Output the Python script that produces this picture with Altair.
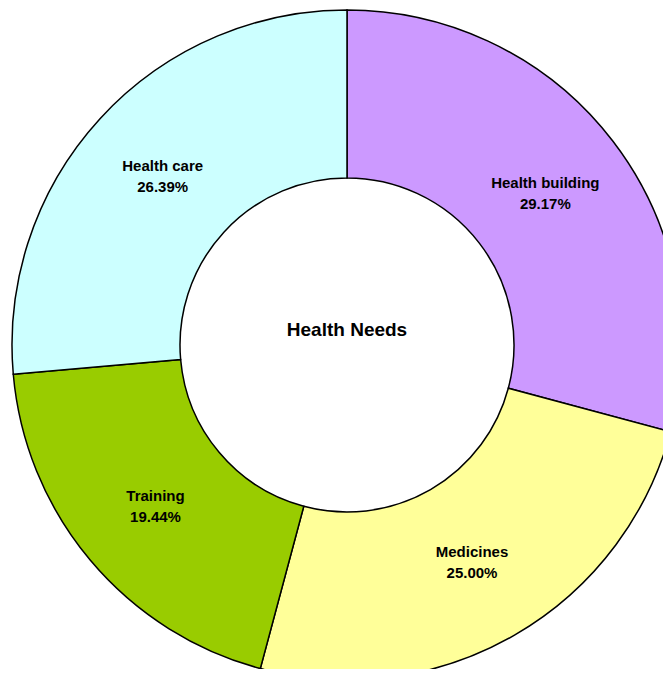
import altair as alt
import pandas as pd

categories = ["Health building", "Medicines", "Training", "Health care"]
counts = [21, 18, 14, 19]
colors = ["#CC99FF", "#FFFF99", "#99CC00", "#CCFFFF"]
center_title = "Health Needs"

total = sum(counts)
df = pd.DataFrame({
    "category": categories,
    "value": counts,
    "order": list(range(len(categories))),
})
df["label"] = [f"{c}\n{v / total * 100:.2f}%" for c, v in zip(categories, counts)]

CX, CY = 339, 337

base = alt.Chart(df).encode(
    theta=alt.Theta("value:Q", stack=True),
    order=alt.Order("order:Q"),
)

arcs = base.mark_arc(
    outerRadius=335, innerRadius=167, stroke="black", strokeWidth=1.5
).encode(
    x=alt.value(CX), y=alt.value(CY),
    color=alt.Color("category:N", scale=alt.Scale(domain=categories, range=colors), legend=None),
)

labels = base.mark_text(
    radius=250, font="Liberation Sans", fontSize=15, fontWeight="bold",
    color="black", lineBreak="\n", baseline="middle", align="center",
    lineHeight=21, dy=-10,
).encode(
    x=alt.value(CX), y=alt.value(CY),
    text="label:N",
)

title_df = pd.DataFrame({"t": [center_title]})
title = alt.Chart(title_df).mark_text(
    font="Liberation Sans", fontSize=19, fontWeight="bold", color="black",
    align="center", baseline="middle",
).encode(x=alt.value(CX), y=alt.value(CY - 15), text="t:N")

chart = alt.layer(arcs, labels, title).properties(
    width=655, height=661, padding=0,
    autosize=alt.AutoSizeParams(type="none"),
).configure_view(stroke=None)

chart.save("out.html", embed_options={"renderer": "svg", "actions": False})
